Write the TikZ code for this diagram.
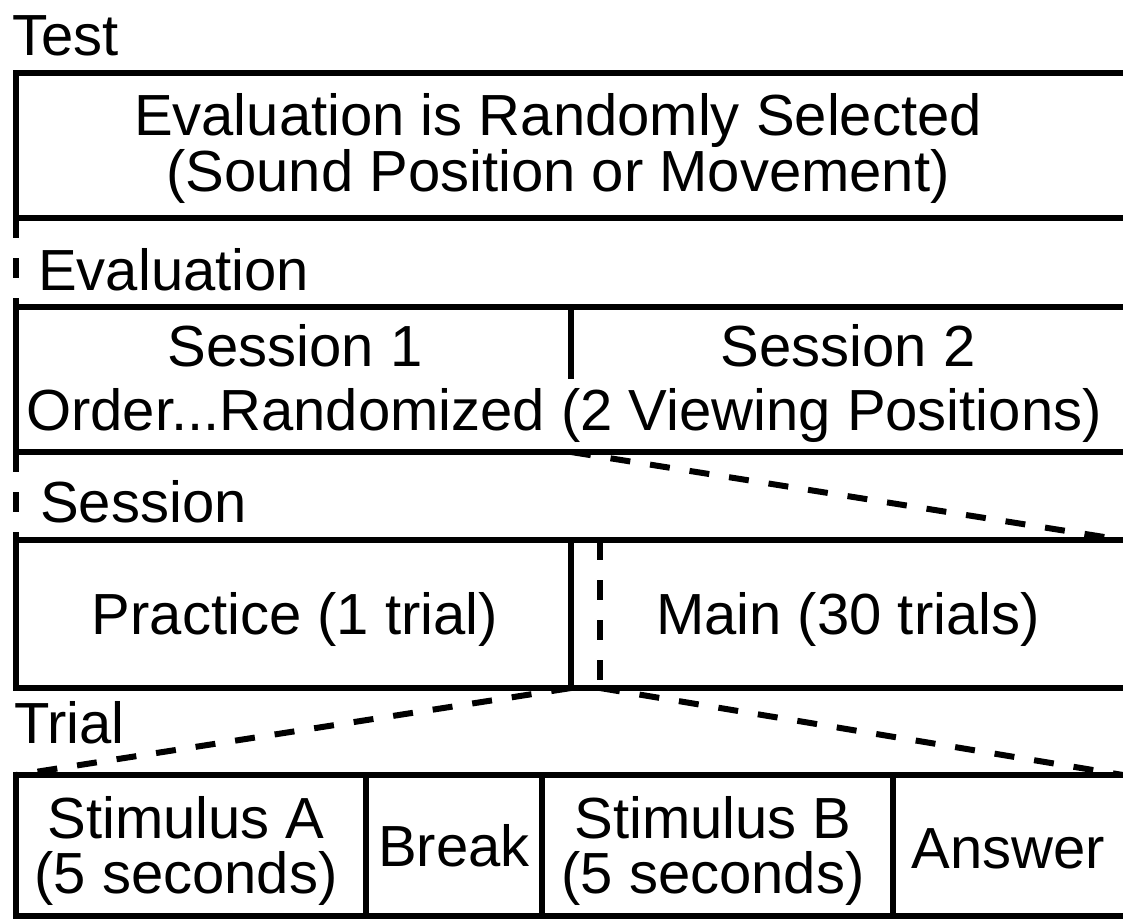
\documentclass[tikz,border=0pt]{standalone}
\usepackage{fontspec}
\setmainfont{Liberation Sans}
\usetikzlibrary{positioning,calc}
\tikzset{
  font=\fontsize{58}{57}\selectfont,
  band/.style={draw,line width=6pt,inner sep=0pt,outer sep=0pt,
               anchor=north west,minimum width=1135pt},
  rule/.style={line width=6pt},
  gap/.style={line width=6pt,dash pattern=on 20pt off 20pt},
  tag/.style={anchor=base west,inner sep=0pt},
  txt/.style={anchor=base,inner sep=0pt},
}

\begin{document}
\begin{tikzpicture}[x=1pt,y=-1pt]
  \path[fill=white,use as bounding box] (0,0) rectangle (1123,919);

  % the bands run off the right edge of the page
  \node[band,minimum height=145pt] (test)  at (16,73)  {};
  \node[band,minimum height=145pt] (eval)  at (16,307) {};
  \node[band,minimum height=148pt] (sess)  at (16,540) {};
  \node[band,minimum height=141pt] (trial) at (16,775) {};

  \coordinate (cut)  at (571,0);
  \coordinate (mcut) at (600,0);
  \coordinate (edge) at (1123,0);

  \node[tag] (testlbl)  at (12,55)  {Test};
  \node[tag] (evallbl)  at (38,290) {Evaluation};
  \node[tag] (sesslbl)  at (40,522) {Session};
  \node[tag] (triallbl) at (14,743) {Trial};

  \node[txt] (sel1) at (558,135) {Evaluation is Randomly Selected};
  \node[txt] (sel2) at (558,191) {(Sound Position or Movement)};

  \node[txt] (ses1)  at (295,366) {Session 1};
  \node[txt] (ses2)  at (848,366) {Session 2};
  \node[txt] (order) at (564,430) {Order...Randomized (2 Viewing Positions)};
  % short divider, stops above the shared second line
  \draw[rule] (cut |- eval.north) -- (571,379);

  \node[txt] (practice) at (295,634) {Practice (1 trial)};
  \node[txt] (main)     at (848,634) {Main (30 trials)};
  \draw[rule] (cut |- sess.north) -- (cut |- sess.south);
  \draw[gap]  (mcut |- sess.north) -- (mcut |- sess.south);

  \node[txt] (stimA1) at (186,838)  {Stimulus A};
  \node[txt] (stimA2) at (186,893)  {(5 seconds)};
  \node[txt] (brk)    at (454,866)  {Break};
  \node[txt] (stimB1) at (713,838)  {Stimulus B};
  \node[txt] (stimB2) at (713,893)  {(5 seconds)};
  \node[txt] (answer) at (1008,868) {Answer};
  \foreach \x in {366,542,893}{
    \coordinate (d) at (\x,0);
    \draw[rule] (d |- trial.north) -- (d |- trial.south);
  }

  % dashed links between levels
  \draw[gap] (test.south west) -- (eval.north west);
  \draw[gap] (eval.south west) -- (sess.north west);
  \draw[gap] (cut |- eval.south) -- (edge |- sess.north);
  \draw[gap] (cut |- sess.south) -- (trial.north west);
  \draw[gap] (mcut |- sess.south) -- (edge |- trial.north);
\end{tikzpicture}
\end{document}
